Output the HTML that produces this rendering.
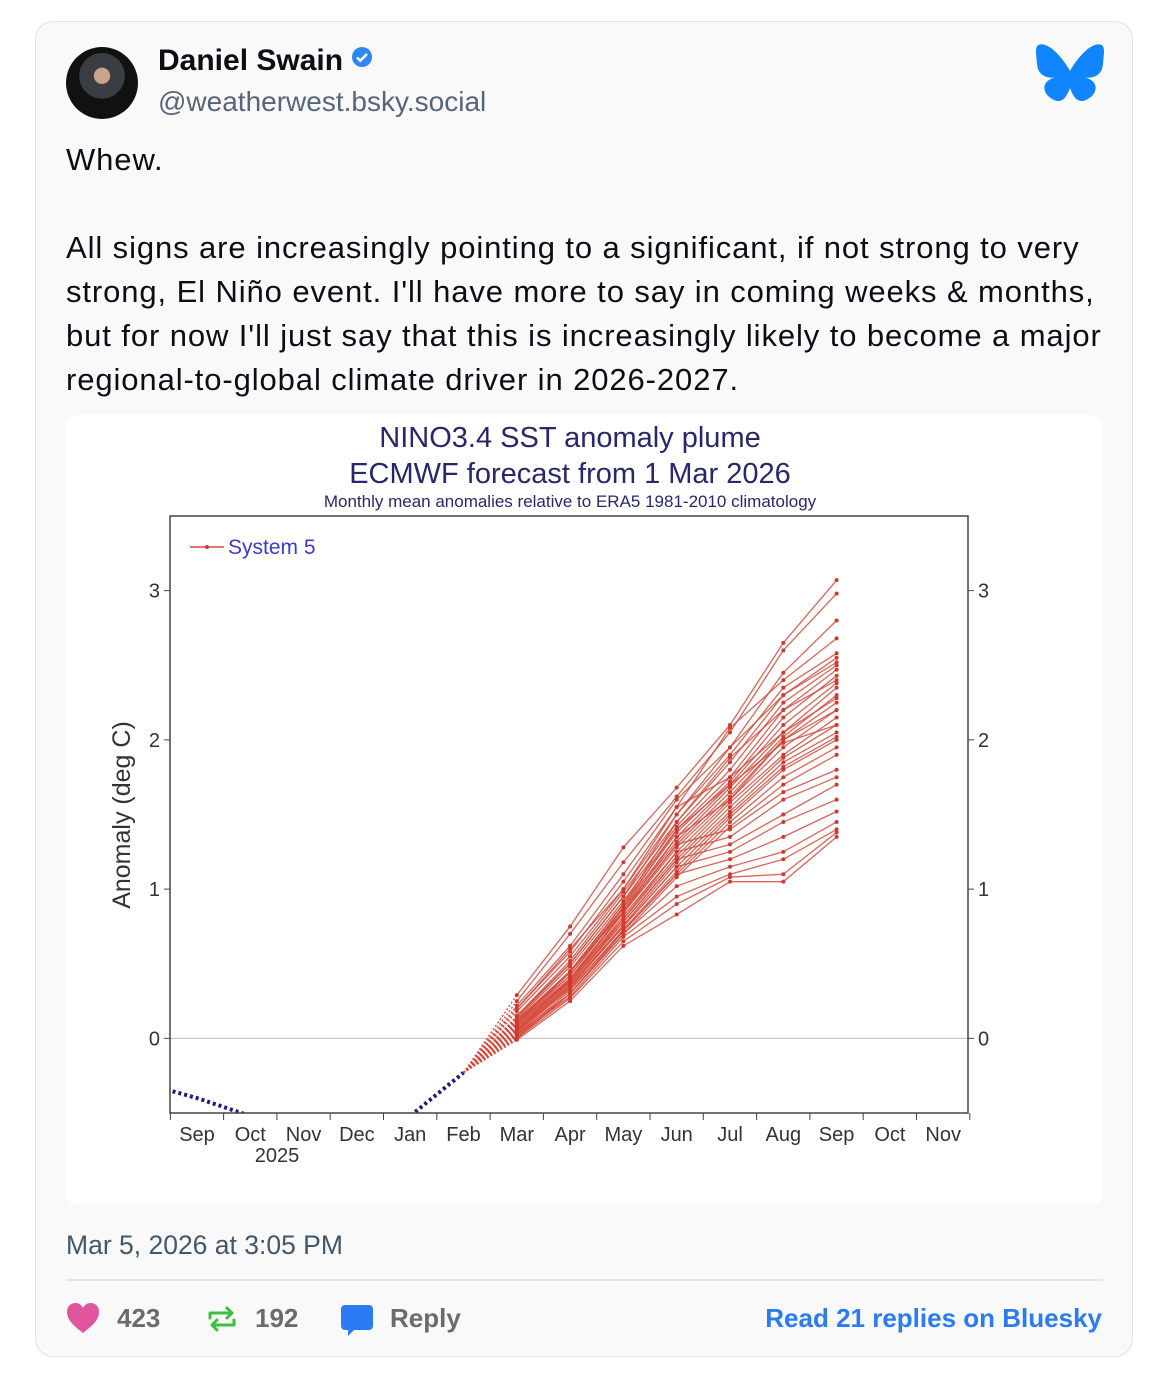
<!DOCTYPE html>
<html><head><meta charset="utf-8">
<style>
html,body{margin:0;padding:0;background:#fff;width:1170px;height:1379px;overflow:hidden;font-family:"Liberation Sans",Arial,sans-serif;}
.abs{position:absolute;}
#card{left:35px;top:21px;width:1096px;height:1334px;border:1px solid #e2e3e7;border-radius:18px;background:#f9f9fa;}
#avatar{left:66px;top:47px;width:72px;height:72px;border-radius:50%;background:radial-gradient(circle at 50% 40%,#c9a48a 0 14%,#3a3d44 15% 40%,#111 41%);}
#name{left:158px;top:44px;font-size:30px;font-weight:bold;color:#0b0f14;}
#handle{left:158px;top:86px;font-size:28px;color:#56657a;}
#text{left:66px;top:138px;width:1080px;font-size:31px;letter-spacing:0.9px;line-height:44px;color:#0b0f14;white-space:nowrap;}
#chartbox{left:66px;top:415px;width:1037px;height:790px;background:#fff;border-radius:12px;}
#date{left:66px;top:1230px;font-size:26.5px;color:#42576c;}
#sep{left:66px;top:1279px;width:1037px;height:2px;background:#e3e6ea;}
.stat{top:1303px;font-size:26px;font-weight:bold;color:#6b6b6b;}
#readlink{right:68px;top:1303px;font-size:26px;font-weight:bold;color:#2b7bf2;}
</style></head><body>
<div id="card" class="abs"></div>
<div id="avatar" class="abs"></div>
<div id="name" class="abs">Daniel Swain <svg width="22" height="22" viewBox="0 0 22 22" style="vertical-align:2px"><circle cx="11" cy="11" r="10" fill="#2f86f5"/><path d="M6 11.5l3.3 3.2L16 8" stroke="#fff" stroke-width="2.6" fill="none"/></svg></div>
<div id="handle" class="abs">@weatherwest.bsky.social</div>
<svg class="abs" style="left:1036px;top:44px" width="68" height="60" viewBox="0 0 68 60"><path fill="#1185fe" d="M15 4C23 10 31 21 34 27 37 21 45 10 53 4c6-4 15-7 15 3 0 2-1 16-2 18-3 8-12 10-20 8 14 2 17 11 10 19-15 13-20-3-22-8-2 5-7 21-22 8-7-8-4-17 10-19-8 2-17 0-20-8C1 23 0 9 0 7 0-3 9 0 15 4z"/></svg>
<div id="text" class="abs">Whew.<br><br>All signs are increasingly pointing to a significant, if not strong to very<br>strong, El Niño event. I'll have more to say in coming weeks &amp; months,<br>but for now I'll just say that this is increasingly likely to become a major<br>regional-to-global climate driver in 2026-2027.</div>
<div id="chartbox" class="abs"></div>
<svg id="chart" class="abs" style="left:0;top:0" width="1170" height="1379"></svg>
<div id="date" class="abs">Mar 5, 2026 at 3:05 PM</div>
<div id="sep" class="abs"></div>
<svg class="abs" style="left:66px;top:1302px" width="34" height="32" viewBox="0 0 34 32"><path fill="#e0559b" d="M17 31C8 24 1 18 1 10 1 4 5 1 9.5 1 13 1 15.5 3 17 6 18.5 3 21 1 24.5 1 29 1 33 4 33 10 33 18 26 24 17 31z"/></svg>
<div class="abs stat" style="left:117px">423</div>
<svg class="abs" style="left:206px;top:1304px" width="32" height="30" viewBox="0 0 32 30"><g stroke="#3fbf3f" stroke-width="3" fill="none" stroke-linecap="round" stroke-linejoin="round"><path d="M4 14V9h22"/><path d="M21 4l5 5-5 5"/><path d="M28 16v5H6"/><path d="M11 26l-5-5 5-5"/></g></svg>
<div class="abs stat" style="left:255px">192</div>
<svg class="abs" style="left:340px;top:1303px" width="34" height="34" viewBox="0 0 34 34"><path fill="#2b7bf2" d="M5 2h24a4 4 0 0 1 4 4v17a4 4 0 0 1-4 4H14l-6 6v-6H5a4 4 0 0 1-4-4V6a4 4 0 0 1 4-4z"/></svg>
<div class="abs stat" style="left:390px">Reply</div>
<div id="readlink" class="abs">Read 21 replies on Bluesky</div>
<script>
const monthLabels=["Sep","Oct","Nov","Dec","Jan","Feb","Mar","Apr","May","Jun","Jul","Aug","Sep","Oct","Nov"];
const yTicks=[0,1,2,3];
const obsMonths=[-1,0,1,2,3,4,5];
const obsValues=[-0.3,-0.4,-0.52,-0.62,-0.62,-0.52,-0.23];
const fcStartIndex=5;
const fcStartValue=-0.23;
// members: Mar..Sep (month index 6..12)
const members=[
[0.29,0.75,1.28,1.68,2.1,2.65,3.07],
[0.25,0.7,1.18,1.62,2.05,2.6,2.98],
[0.22,0.62,1.1,1.6,1.95,2.45,2.8],
[0.2,0.58,1.05,1.55,2.08,2.4,2.68],
[0.18,0.55,1.0,1.5,1.9,2.35,2.58],
[0.15,0.52,0.98,1.45,1.85,2.3,2.55],
[0.14,0.5,0.95,1.42,1.8,2.25,2.5],
[0.13,0.48,0.92,1.4,1.75,2.2,2.47],
[0.12,0.45,0.9,1.38,1.72,2.15,2.43],
[0.11,0.44,0.88,1.35,1.7,2.1,2.38],
[0.1,0.42,0.87,1.32,1.68,2.05,2.35],
[0.09,0.4,0.85,1.3,1.65,2.02,2.3],
[0.08,0.39,0.84,1.28,1.62,2.0,2.25],
[0.07,0.38,0.82,1.25,1.6,1.95,2.2],
[0.06,0.37,0.8,1.22,1.58,1.9,2.15],
[0.05,0.36,0.78,1.2,1.55,1.88,2.1],
[0.04,0.35,0.76,1.18,1.52,1.85,2.05],
[0.03,0.34,0.75,1.15,1.5,1.82,2.02],
[0.02,0.32,0.73,1.12,1.48,1.8,2.0],
[0.01,0.3,0.72,1.1,1.45,1.75,1.95],
[0.0,0.3,0.7,1.08,1.42,1.7,1.9],
[0.12,0.45,0.85,1.3,1.4,1.65,1.8],
[0.1,0.4,0.8,1.25,1.35,1.6,1.75],
[0.08,0.38,0.78,1.2,1.3,1.5,1.7],
[0.06,0.35,0.75,1.15,1.25,1.45,1.6],
[0.05,0.33,0.72,1.1,1.2,1.35,1.52],
[0.03,0.3,0.7,1.02,1.15,1.25,1.45],
[0.02,0.28,0.68,0.95,1.1,1.2,1.4],
[0.0,0.27,0.65,0.9,1.08,1.1,1.38],
[-0.01,0.25,0.62,0.83,1.05,1.05,1.35],
[0.15,0.5,0.95,1.5,1.95,2.3,2.52],
[0.1,0.45,0.9,1.45,1.88,2.2,2.4],
[0.2,0.6,1.0,1.55,1.75,2.05,2.28],
[0.05,0.4,0.85,1.35,1.6,2.0,2.2],
[0.12,0.42,0.88,1.4,1.7,1.98,2.1]
];
const svg=document.getElementById('chart');
const NS='http://www.w3.org/2000/svg';
const L=170,R=968,T=516,B=1113,ymin=-0.5,ymax=3.5;
const xm=i=>197+i*53.3;
const yv=v=>B-(v-ymin)/(ymax-ymin)*(B-T);
function mk(tag,attrs,parent){const e=document.createElementNS(NS,tag);for(const k in attrs)e.setAttribute(k,attrs[k]);(parent||svg).appendChild(e);return e;}
function txt(x,y,s,size,fill,anchor,extra){const t=mk('text',Object.assign({x:x,y:y,'font-size':size,fill:fill,'text-anchor':anchor||'middle','font-family':'Liberation Sans, Arial, sans-serif'},extra||{}));t.textContent=s;return t;}
let t;
t=txt(570,447,"NINO3.4 SST anomaly plume",29,"#27276e");


t=txt(570,483,"ECMWF forecast from 1 Mar 2026",29,"#27276e");


t=txt(570,507,"Monthly mean anomalies relative to ERA5 1981-2010 climatology",17,"#27276e");


const clip=mk('clipPath',{id:'pc'});mk('rect',{x:L,y:T,width:R-L,height:B-T},clip);
let z=mk('line',{x1:L,x2:R,y1:yv(0),y2:yv(0),stroke:'#bbb','stroke-width':1});


const g=mk('g',{'clip-path':'url(#pc)'});


let op=obsMonths.map((m,i)=>xm(m)+','+yv(obsValues[i])).join(' ');
let ob=mk('polyline',{points:op,fill:'none',stroke:'#1d1d7a','stroke-width':4,'stroke-dasharray':'3 3'},g);


members.forEach((m,k)=>{
  const pts=[[xm(fcStartIndex),yv(fcStartValue)]].concat(m.map((v,i)=>[xm(6+i),yv(v)]));
  const grp=mk('g',{},g);
  
  
  mk('line',{x1:pts[0][0],y1:pts[0][1],x2:pts[1][0],y2:pts[1][1],stroke:'#d44a3c','stroke-width':1.3,'stroke-dasharray':'2 2'},grp);
  mk('polyline',{points:pts.slice(1).map(p=>p.join(',')).join(' '),fill:'none',stroke:'#d44a3c','stroke-width':1.3,'stroke-opacity':0.85},grp);
  pts.slice(1).forEach(p=>mk('circle',{cx:p[0],cy:p[1],r:2,fill:'#d03a2e'},grp));
});
let fr=mk('rect',{x:L,y:T,width:R-L,height:B-T,fill:'none',stroke:'#444','stroke-width':1.5});


yTicks.forEach(v=>{
  const y=yv(v);
  mk('line',{x1:L-6,x2:L,y1:y,y2:y,stroke:'#444'});
  mk('line',{x1:R,x2:R+6,y1:y,y2:y,stroke:'#444'});
  let a=txt(L-10,y+7,String(v),20,'#333','end');
  
  
  let b=txt(R+10,y+7,String(v),20,'#333','start');
  
  
});
monthLabels.forEach((s,i)=>{
  const x=xm(i);
  mk('line',{x1:x+26.6,x2:x+26.6,y1:B,y2:B+7,stroke:'#444'});
  let a=txt(x,B+28,s,20,'#333');
  
  
});
mk('line',{x1:xm(0)-26.6,x2:xm(0)-26.6,y1:B,y2:B+7,stroke:'#444'});
t=txt(277,1162,"2025",20,"#333");


t=txt(130,815,"Anomaly (deg C)",25,"#333","middle",{transform:'rotate(-90 130 815)'});


const lg=mk('g',{});


mk('line',{x1:190,x2:224,y1:547,y2:547,stroke:'#d44a3c','stroke-width':1.5},lg);
mk('circle',{cx:207,cy:547,r:2,fill:'#d03a2e'},lg);
let ll=txt(228,554,"System 5",21,"#3a3ad0","start");


</script>
</body></html>
